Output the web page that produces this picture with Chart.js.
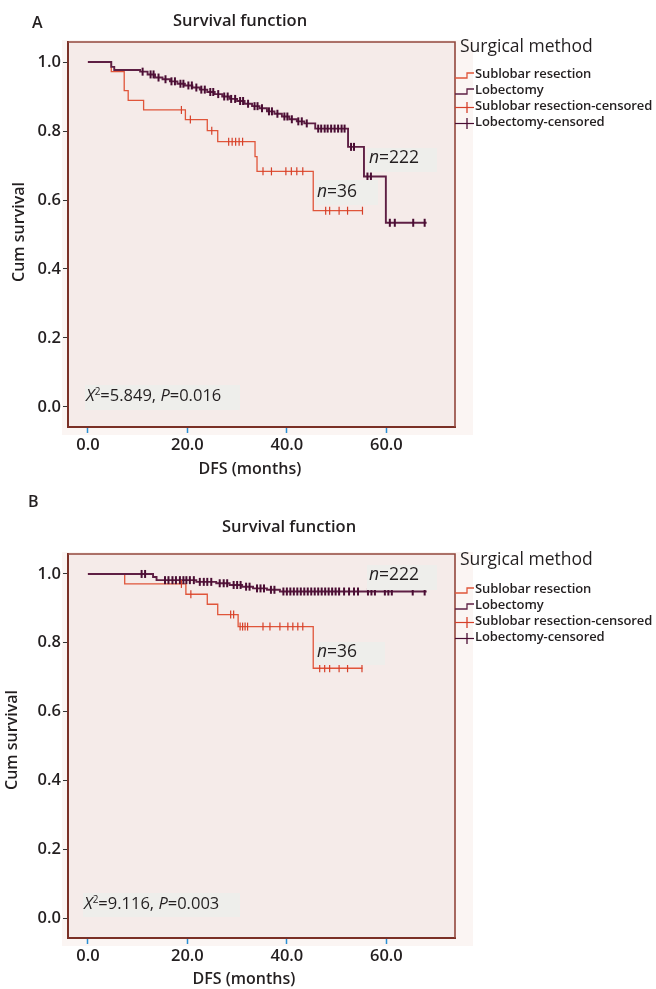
<!DOCTYPE html>
<html><head><meta charset="utf-8">
<script src="https://cdn.jsdelivr.net/npm/chart.js@4.4.1/dist/chart.umd.min.js"></script>
<style>
html,body{margin:0;padding:0;background:#fff}
body{width:656px;height:989px;position:relative;overflow:hidden;font-family:'Open Sans',sans-serif;color:#231f20}
canvas{position:absolute;left:0}
.t{position:absolute;white-space:nowrap;line-height:1}
.box{position:absolute;background:#eeeeeb}
svg{position:absolute;left:0;top:0;overflow:visible}
</style></head><body>
<canvas id="ca" width="656" height="490" style="top:0;width:656px;height:490px"></canvas>
<canvas id="cb" width="656" height="499" style="top:490px;width:656px;height:499px"></canvas>
<svg id="icons" width="656" height="989"></svg>
<script>
// ---------- data ----------
const xTickValues = [0, 20, 40, 60];
const yTickValues = [0, 0.2, 0.4, 0.6, 0.8, 1.0];
const legendLabels = ['Sublobar resection', 'Lobectomy', 'Sublobar resection-censored', 'Lobectomy-censored'];

// Panel A
const aSubTimes = [0, 4.7, 7.3, 8.1, 11.2, 19.6, 24.0, 26.1, 33.6, 34.0, 45.3, 55.2];
const aSubSurv  = [1, 0.972, 0.917, 0.889, 0.861, 0.833, 0.801, 0.769, 0.726, 0.683, 0.569, 0.569];
const aSubCens  = [18.8, 20.6, 24.9, 28.3, 29.0, 29.7, 30.4, 31.1, 35.2, 36.9, 39.8, 40.9, 42.0, 43.2, 47.8, 48.6, 50.5, 52.2, 55.2];
const aLobTimes = [0, 4.7, 5.3, 10.5, 12.0, 13.5, 15.0, 16.5, 18.0, 19.5, 21.0, 22.5, 24.0, 25.5, 27.0, 28.5, 30.0, 31.5, 33.0, 34.5, 36.0, 37.5, 39.0, 40.5, 42.0, 43.5, 45.7, 52.3, 55.5, 59.9, 68.1];
const aLobSurv  = [1, 0.986, 0.977, 0.972, 0.964, 0.955, 0.950, 0.944, 0.937, 0.932, 0.926, 0.920, 0.913, 0.907, 0.900, 0.893, 0.887, 0.879, 0.872, 0.866, 0.857, 0.850, 0.842, 0.834, 0.828, 0.822, 0.807, 0.754, 0.668, 0.534, 0.534];
const aLobCens  = [11.0, 12.6, 13.2, 14.2, 15.6, 16.8, 17.5, 18.6, 19.2, 20.2, 20.9, 21.8, 22.8, 23.5, 24.6, 25.2, 26.2, 27.4, 28.1, 28.8, 29.6, 30.6, 31.2, 32.2, 33.5, 34.1, 35.0, 36.4, 37.0, 38.1, 39.5, 40.1, 41.0, 42.3, 43.0, 44.0, 46.3, 46.9, 47.6, 48.2, 48.9, 49.6, 50.3, 51.0, 51.6, 52.9, 53.5, 56.2, 56.9, 60.7, 61.7, 65.4, 67.7];

// Panel B
const bSubTimes = [0, 7.4, 19.7, 24.0, 26.1, 30.2, 45.3, 55.2];
const bSubSurv  = [1, 0.971, 0.941, 0.912, 0.882, 0.847, 0.726, 0.726];
const bSubCens  = [18.8, 20.7, 28.7, 29.3, 30.6, 31.1, 31.6, 32.1, 35.2, 36.6, 38.6, 40.2, 41.2, 42.2, 43.2, 46.6, 47.6, 48.6, 50.5, 52.2, 55.1];
const bLobTimes = [0, 13.1, 13.8, 21.8, 25.8, 28.5, 31.0, 33.2, 36.0, 38.6, 68.1];
const bLobSurv  = [1, 0.991, 0.982, 0.977, 0.973, 0.968, 0.963, 0.958, 0.954, 0.949, 0.949];
const bLobCens  = [10.8, 11.5, 15.5, 16.2, 17.0, 17.7, 18.5, 19.2, 19.8, 20.5, 21.3, 22.5, 23.3, 24.0, 24.8, 26.5, 27.3, 28.0, 29.3, 30.0, 30.7, 31.8, 32.5, 34.0, 34.7, 35.4, 36.8, 37.5, 39.3, 40.0, 40.7, 41.4, 42.1, 42.8, 43.5, 44.2, 44.9, 45.6, 46.3, 47.0, 47.7, 48.4, 49.1, 49.8, 50.5, 51.5, 52.5, 53.5, 54.3, 56.3, 57.0, 57.7, 59.7, 60.4, 61.1, 65.3, 67.7];

// ---------- styling ----------
const SUB_COLOR = '#e0553a';
const SUB_CENS = '#d6402a';
const LOB_COLOR = '#5e1f44';
const LOB_CENS = '#4a0d33';
const FRAME = '#7a3026';
const TEXT = '#231f20';

function toPoints(times, surv) { return times.map((t, i) => ({x: t, y: surv[i]})); }
function survAt(times, surv, t) {
  let v = surv[0];
  for (let i = 0; i < times.length; i++) { if (times[i] <= t) v = surv[i]; }
  return v;
}
function censPoints(cens, times, surv) { return cens.map(t => ({x: t, y: survAt(times, surv, t)})); }

const framePlugin = {
  id: 'frame',
  beforeDraw(chart) {
    const {ctx, chartArea: a} = chart;
    ctx.save();
    ctx.fillStyle = '#fbf5f3';
    ctx.fillRect(a.left - 6, a.top - 2, a.right - a.left + 24, a.bottom - a.top + 10);
    ctx.fillStyle = '#f5ebe9';
    ctx.fillRect(a.left, a.top, a.right - a.left, a.bottom - a.top);
    ctx.restore();
  },
  afterDraw(chart) {
    const {ctx, chartArea: a} = chart;
    ctx.save();
    ctx.strokeStyle = '#93473d';
    ctx.lineWidth = 1.6;
    ctx.beginPath();
    ctx.moveTo(a.left, a.top); ctx.lineTo(a.right, a.top); ctx.lineTo(a.right, a.bottom);
    ctx.stroke();
    ctx.restore();
  }
};

function makeChart(id, padTop, padBottom, sub, subC, lob, lobC) {
  return new Chart(document.getElementById(id), {
    type: 'line',
    data: {
      datasets: [
        {label: legendLabels[0], data: sub, stepped: true, borderColor: SUB_COLOR, borderWidth: 1.3, pointRadius: 0, fill: false, order: 2},
        {label: legendLabels[1], data: lob, stepped: true, borderColor: LOB_COLOR, borderWidth: 1.9, pointRadius: 0, fill: false, order: 1},
        {label: legendLabels[2], data: subC, showLine: false, pointStyle: 'line', rotation: 90, pointRadius: 4, borderColor: SUB_CENS, backgroundColor: SUB_CENS, pointBorderWidth: 1.2, order: 0},
        {label: legendLabels[3], data: lobC, showLine: false, pointStyle: 'line', rotation: 90, pointRadius: 4, borderColor: LOB_CENS, backgroundColor: LOB_CENS, pointBorderWidth: 2, order: 0}
      ]
    },
    options: {
      responsive: false,
      animation: false,
      events: [],
      layout: {padding: {left: 0, right: 201, top: padTop, bottom: padBottom}},
      plugins: {legend: {display: false}, title: {display: false}, tooltip: {enabled: false}},
      scales: {
        x: {
          type: 'linear', min: -4, max: 73.8,
          afterBuildTicks: s => { s.ticks = xTickValues.map(v => ({value: v})); },
          afterFit: s => { s.height = 30; },
          ticks: {callback: v => Number(v).toFixed(1), color: TEXT, font: {family: 'Open Sans', size: 16.5, weight: '600'}, padding: 2, maxRotation: 0, autoSkip: false},
          grid: {display: true, drawOnChartArea: false, drawTicks: true, tickLength: 6, tickColor: '#2b8fd3', tickWidth: 1.5},
          border: {display: true, color: FRAME, width: 2}
        },
        y: {
          type: 'linear', min: -0.058, max: 1.058,
          afterBuildTicks: s => { s.ticks = yTickValues.map(v => ({value: v})); },
          afterFit: s => { s.width = 68; },
          ticks: {callback: v => Number(v).toFixed(1), color: TEXT, font: {family: 'Open Sans', size: 16.5, weight: '600'}, padding: 2, autoSkip: false},
          grid: {display: true, drawOnChartArea: false, drawTicks: true, tickLength: 5, tickColor: '#333', tickWidth: 1},
          border: {display: true, color: FRAME, width: 2}
        }
      }
    },
    plugins: [framePlugin]
  });
}

makeChart('ca', 42, 33,
  toPoints(aSubTimes, aSubSurv), censPoints(aSubCens, aSubTimes, aSubSurv),
  toPoints(aLobTimes, aLobSurv), censPoints(aLobCens, aLobTimes, aLobSurv));
makeChart('cb', 64, 21,
  toPoints(bSubTimes, bSubSurv), censPoints(bSubCens, bSubTimes, bSubSurv),
  toPoints(bLobTimes, bLobSurv), censPoints(bLobCens, bLobTimes, bLobSurv));

// ---------- text overlays ----------
function txt(html, x, baseline, size, opts = {}) {
  const d = document.createElement('div');
  d.className = 't';
  d.innerHTML = html;
  d.style.fontSize = size + 'px';
  d.style.fontWeight = opts.weight || '400';
  if (opts.ls) d.style.letterSpacing = opts.ls;
  document.body.appendChild(d);
  const top = baseline - 0.888 * size;
  d.style.top = top + 'px';
  if (opts.center) d.style.left = (x - d.offsetWidth / 2) + 'px';
  else d.style.left = x + 'px';
  if (opts.rot) {
    d.style.left = (x - d.offsetWidth / 2) + 'px';
    d.style.top = (baseline - d.offsetHeight / 2) + 'px';
    d.style.transform = 'rotate(-90deg)';
  }
  return d;
}
function box(x, y, w, h) {
  const d = document.createElement('div');
  d.className = 'box';
  Object.assign(d.style, {left: x + 'px', top: y + 'px', width: w + 'px', height: h + 'px'});
  document.body.appendChild(d);
}
const svg = document.getElementById('icons');
function line(pts, color, w) {
  const p = document.createElementNS('http://www.w3.org/2000/svg', 'polyline');
  p.setAttribute('points', pts.map(q => q.join(',')).join(' '));
  p.setAttribute('fill', 'none');
  p.setAttribute('stroke', color);
  p.setAttribute('stroke-width', w);
  svg.appendChild(p);
}
function legend(x, titleBase, itemBases) {
  txt('Surgical method', x + 3, titleBase, 17.5, {weight: '400'});
  const cols = [SUB_COLOR, LOB_COLOR, SUB_CENS, LOB_CENS];
  itemBases.forEach((b, i) => {
    txt(legendLabels[i], x + 18, b, 13, {weight: '600', ls: '-0.1px'});
    if (i < 2) line([[x - 2, b - 1], [x + 10, b - 1], [x + 10, b - 6], [x + 17, b - 6]], cols[i], 1.3);
    else { line([[x - 2, b - 3.5], [x + 17, b - 3.5]], cols[i], 1.2); line([[x + 10, b - 9], [x + 10, b + 2]], cols[i], 1.3); }
  });
}
const sup2 = '<sup style="font-size:10px;vertical-align:6px;line-height:0">2</sup>';

// Panel A
txt('A', 32, 28, 16, {weight: '600'});
txt('Survival function', 240, 27, 16.5, {weight: '600', center: true});
txt('Cum survival', 18, 232, 16, {weight: '600', rot: true});
txt('DFS (months)', 250, 474, 16, {weight: '600', center: true});
legend(457, 53, [79, 95, 111, 127]);
box(367, 148, 70, 24); txt('<i>n</i>=222', 369, 164, 17.5);
box(315, 180, 63, 25); txt('<i>n</i>=36', 317, 198, 17.5);
box(85, 385, 155, 25); txt('<i>X</i>' + sup2 + '=5.849, <i>P</i>=0.016', 86, 402, 16.5);

// Panel B
txt('B', 28, 507, 16, {weight: '600'});
txt('Survival function', 289, 533, 16.5, {weight: '600', center: true});
txt('Cum survival', 11, 740, 16, {weight: '600', rot: true});
txt('DFS (months)', 244, 984, 16, {weight: '600', center: true});
legend(457, 566, [594, 610, 626, 642]);
box(367, 565, 70, 25); txt('<i>n</i>=222', 369, 581, 17.5);
box(315, 642, 70, 23); txt('<i>n</i>=36', 317, 658, 17.5);
box(83, 893, 157, 24); txt('<i>X</i>' + sup2 + '=9.116, <i>P</i>=0.003', 84, 910, 16.5);
</script>
</body></html>
